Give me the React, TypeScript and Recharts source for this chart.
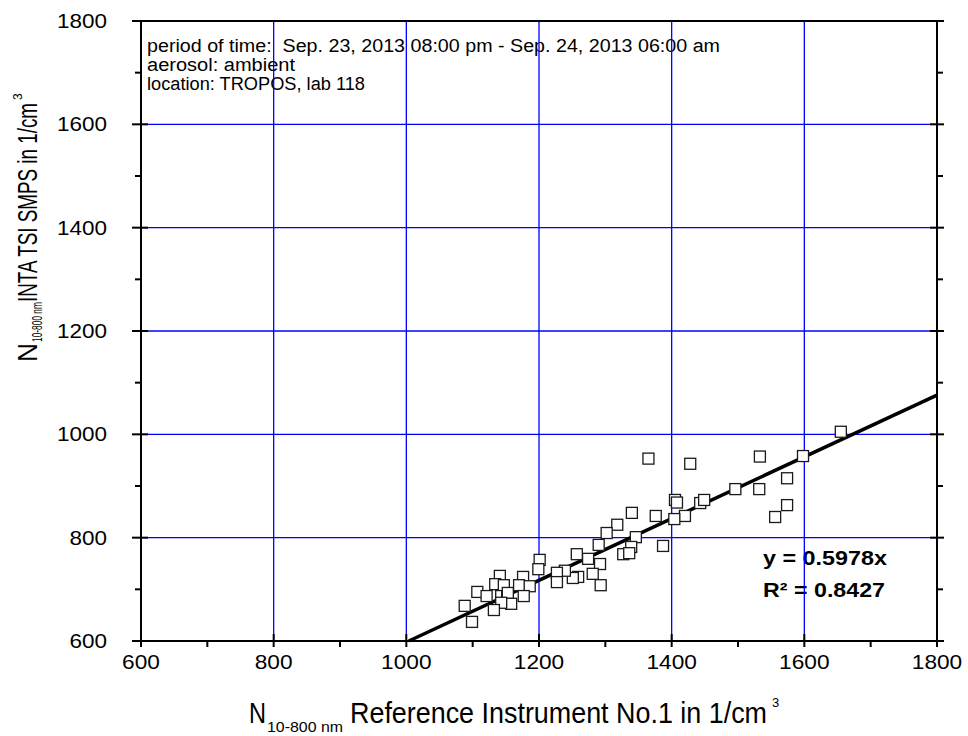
import React from "react";
import {
  ScatterChart,
  Scatter,
  XAxis,
  YAxis,
  ReferenceLine,
  Customized,
} from "recharts";

// reference instrument (x) vs INTA TSI SMPS (y), 1/cm3
const refX = [
  1655, 1598, 1533, 1574, 1532, 1496, 1574, 1556, 1365, 1428, 1405, 1408, 1443,
  1449, 1420, 1404, 1376, 1340, 1318, 1302, 1346, 1339, 1387, 1290, 1327, 1336,
  1292, 1293, 1274, 1257, 1281, 1259, 1251, 1239, 1227, 1227, 1201, 1199, 1176,
  1141, 1134, 1147, 1170, 1186, 1107, 1121, 1143, 1152, 1177, 1153, 1158, 1143,
  1088, 1132, 1099,
];
const smpsY = [
  1005, 958, 957, 915, 894, 894, 863, 840, 953, 943, 873, 868, 867, 873, 842,
  836, 842, 848, 825, 809, 801, 782, 784, 786, 768, 770, 749, 708, 759, 768,
  730, 724, 722, 736, 732, 714, 757, 739, 724, 726, 710, 708, 708, 706, 695,
  687, 687, 685, 687, 693, 672, 674, 668, 660, 637,
];

const axisTicks = [600, 700, 800, 900, 1000, 1100, 1200, 1300, 1400, 1500, 1600, 1700, 1800];
const gridValues = [800, 1000, 1200, 1400, 1600];
const slope = 0.5978;
const r2 = 0.8427;
const infoLines = [
  "period of time:  Sep. 23, 2013 08:00 pm - Sep. 24, 2013 06:00 am",
  "aerosol: ambient",
  "location: TROPOS, lab 118",
];

const data = refX.map((x, i) => ({ x, y: smpsY[i] }));

const FONT = "'Liberation Sans', Arial, sans-serif";
const isMajor = (v: number) => v % 200 === 0;

const BottomTick = (p: any) => {
  const { x, y, payload } = p;
  const v = payload.value;
  const label = String(v);
  return (
    <g>
      {isMajor(v) ? (
        <line x1={x} x2={x} y1={y - 7} y2={y + 6} stroke="#000" strokeWidth={2} />
      ) : (
        <line x1={x} x2={x} y1={y} y2={y + 6} stroke="#000" strokeWidth={2} />
      )}
      {isMajor(v) && (
        <text
          x={x}
          y={y + 28}
          textAnchor="middle"
          fontFamily={FONT}
          fontSize={20}
          textLength={label.length * 12.6}
          lengthAdjust="spacingAndGlyphs"
          fill="#000"
        >
          {label}
        </text>
      )}
    </g>
  );
};

const TopTick = (p: any) => {
  const { x, y, payload } = p;
  const v = payload.value;
  return isMajor(v) ? (
    <line x1={x} x2={x} y1={y - 7} y2={y + 7} stroke="#000" strokeWidth={2} />
  ) : (
    <line x1={x} x2={x} y1={y - 6} y2={y} stroke="#000" strokeWidth={2} />
  );
};

const LeftTick = (p: any) => {
  const { x, y, payload } = p;
  const v = payload.value;
  const label = String(v);
  return (
    <g>
      {isMajor(v) ? (
        <line x1={x - 9} x2={x + 7} y1={y} y2={y} stroke="#000" strokeWidth={2} />
      ) : (
        <line x1={x - 6} x2={x} y1={y} y2={y} stroke="#000" strokeWidth={2} />
      )}
      {isMajor(v) && (
        <text
          x={x - 34}
          y={y + 7}
          textAnchor="end"
          fontFamily={FONT}
          fontSize={20}
          textLength={label.length * 12.5}
          lengthAdjust="spacingAndGlyphs"
          fill="#000"
        >
          {label}
        </text>
      )}
    </g>
  );
};

const RightTick = (p: any) => {
  const { x, y, payload } = p;
  const v = payload.value;
  return isMajor(v) ? (
    <line x1={x - 7} x2={x + 7} y1={y} y2={y} stroke="#000" strokeWidth={2} />
  ) : (
    <line x1={x} x2={x + 6} y1={y} y2={y} stroke="#000" strokeWidth={2} />
  );
};

const OpenSquare = (p: any) => {
  const { cx, cy } = p;
  if (cx == null || cy == null) return null;
  return (
    <rect
      x={cx - 5.5}
      y={cy - 5.5}
      width={11}
      height={11}
      fill="#fff"
      stroke="#1a1a1a"
      strokeWidth={1.3}
    />
  );
};

const Texts = () => (
  <g fontFamily={FONT} fill="#000">
    {infoLines.map((t, i) => (
      <text
        key={i}
        x={147}
        y={52 + i * 19}
        fontSize={18}
        style={{ whiteSpace: "pre" }}
        textLength={[573, 148, 218][i]}
        lengthAdjust="spacingAndGlyphs"
      >
        {t}
      </text>
    ))}
    <text x={763} y={565} fontSize={21} fontWeight="bold" textLength={124} lengthAdjust="spacingAndGlyphs">
      {`y = ${slope}x`}
    </text>
    <text x={763} y={597} fontSize={21} fontWeight="bold" textLength={122} lengthAdjust="spacingAndGlyphs">
      {`R\u00b2 = ${r2}`}
    </text>

    {/* x axis title */}
    <text x={249} y={723} fontSize={29} textLength={17} lengthAdjust="spacingAndGlyphs">N</text>
    <text x={267} y={732} fontSize={15} textLength={76} lengthAdjust="spacingAndGlyphs">10-800 nm</text>
    <text x={350} y={723} fontSize={29} textLength={417} lengthAdjust="spacingAndGlyphs">
      Reference Instrument No.1 in 1/cm
    </text>
    <text x={772} y={707} fontSize={13}>3</text>

    {/* y axis title */}
    <g transform="translate(37,362) rotate(-90)">
      <text x={0} y={0} fontSize={27} textLength={19} lengthAdjust="spacingAndGlyphs">N</text>
      <text x={20} y={5} fontSize={14} textLength={40} lengthAdjust="spacingAndGlyphs">10-800 nm</text>
      <text x={60} y={0} fontSize={27} textLength={199} lengthAdjust="spacingAndGlyphs">
        INTA TSI SMPS in 1/cm
      </text>
      <text x={262} y={-15} fontSize={12}>3</text>
    </g>
  </g>
);

export default function App() {
  return (
    <div style={{ position: "absolute", left: 0, top: 0, background: "#fff" }}>
      <ScatterChart
        width={968}
        height={736}
        margin={{ top: 0, right: 0, bottom: 35, left: 0 }}
      >
        {gridValues.map((v) => (
          <ReferenceLine key={"gx" + v} x={v} stroke="#0000ff" strokeWidth={1.3} />
        ))}
        {gridValues.map((v) => (
          <ReferenceLine key={"gy" + v} y={v} stroke="#0000ff" strokeWidth={1.3} />
        ))}
        <XAxis
          type="number"
          dataKey="x"
          domain={[600, 1800]}
          ticks={axisTicks}
          interval={0}
          allowDataOverflow
          height={60}
          tickSize={0}
          tickMargin={0}
          tickLine={false}
          axisLine={{ stroke: "#000", strokeWidth: 2 }}
          tick={(p: any) => <BottomTick {...p} />}
        />
        <XAxis
          xAxisId="top"
          orientation="top"
          type="number"
          domain={[600, 1800]}
          ticks={axisTicks}
          interval={0}
          allowDataOverflow
          height={21}
          tickSize={0}
          tickMargin={0}
          tickLine={false}
          axisLine={{ stroke: "#000", strokeWidth: 2 }}
          tick={(p: any) => <TopTick {...p} />}
        />
        <YAxis
          type="number"
          dataKey="y"
          domain={[600, 1800]}
          ticks={axisTicks}
          interval={0}
          allowDataOverflow
          width={141}
          tickSize={0}
          tickMargin={0}
          tickLine={false}
          axisLine={{ stroke: "#000", strokeWidth: 2 }}
          tick={(p: any) => <LeftTick {...p} />}
        />
        <YAxis
          yAxisId="right"
          orientation="right"
          type="number"
          domain={[600, 1800]}
          ticks={axisTicks}
          interval={0}
          allowDataOverflow
          width={31}
          tickSize={0}
          tickMargin={0}
          tickLine={false}
          axisLine={{ stroke: "#000", strokeWidth: 2 }}
          tick={(p: any) => <RightTick {...p} />}
        />
        <Scatter data={data} shape={<OpenSquare />} isAnimationActive={false} />
        <ReferenceLine
          segment={[
            { x: 600 / slope, y: 600 },
            { x: 1800, y: 1800 * slope },
          ]}
          stroke="#000"
          strokeWidth={3.5}
        />
        <Customized component={Texts} />
      </ScatterChart>
    </div>
  );
}
